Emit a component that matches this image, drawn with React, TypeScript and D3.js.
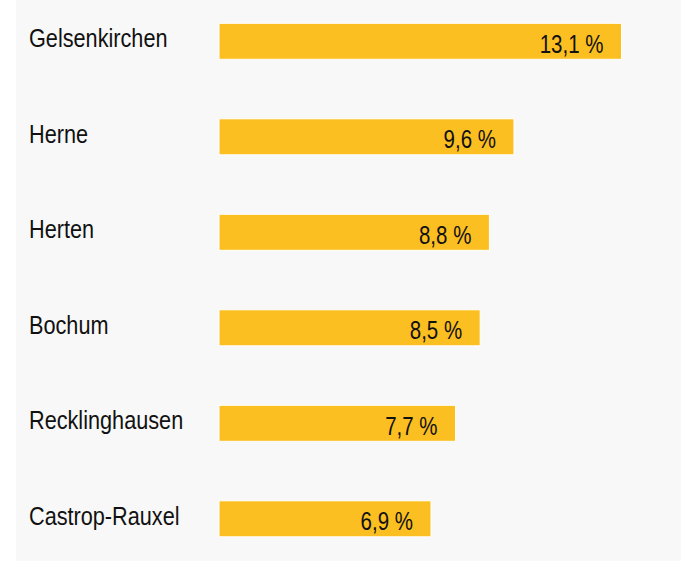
import React from "react";
import * as d3 from "d3";

const categories = ["Gelsenkirchen", "Herne", "Herten", "Bochum", "Recklinghausen", "Castrop-Rauxel"];
const values = [13.1, 9.6, 8.8, 8.5, 7.7, 6.9];
const valueLabels = ["13,1 %", "9,6 %", "8,8 %", "8,5 %", "7,7 %", "6,9 %"];

const W = 681;
const H = 561;
const FONT = "'Liberation Sans', Arial, sans-serif";

export default function App() {
  const x = d3.scaleLinear().domain([0, 13.1]).range([219, 621.5]);
  const y = d3
    .scaleBand<string>()
    .domain(categories)
    .range([23.3, 536.8])
    .paddingInner(0.623)
    .paddingOuter(0);
  const bw = y.bandwidth();
  return (
    <svg
      width={W}
      height={H}
      style={{ position: "absolute", left: 0, top: 0, display: "block" }}
    >
      <rect x={16} y={0} width={W - 16} height={H} fill="#f8f8f8" />
      {categories.map((c, i) => {
        const y0 = y(c)!;
        const cy = y0 + bw / 2;
        return (
          <g key={c}>
            <rect
              x={x(0)}
              y={y0}
              width={x(values[i]) - x(0)}
              height={bw}
              fill="#fbbf21"
              stroke="#ffffff"
              strokeWidth={1}
            />
            <text
              transform={`translate(29,${cy + 5.8}) scale(0.85,1)`}
              fontFamily={FONT}
              fontSize={25.5}
              fill="#111111"
            >
              {c}
            </text>
            <text
              transform={`translate(${x(values[i]) - 18},${cy + 11.6}) scale(0.82,1)`}
              fontFamily={FONT}
              fontSize={25}
              fill="#111111"
              textAnchor="end"
            >
              {valueLabels[i]}
            </text>
          </g>
        );
      })}
    </svg>
  );
}
